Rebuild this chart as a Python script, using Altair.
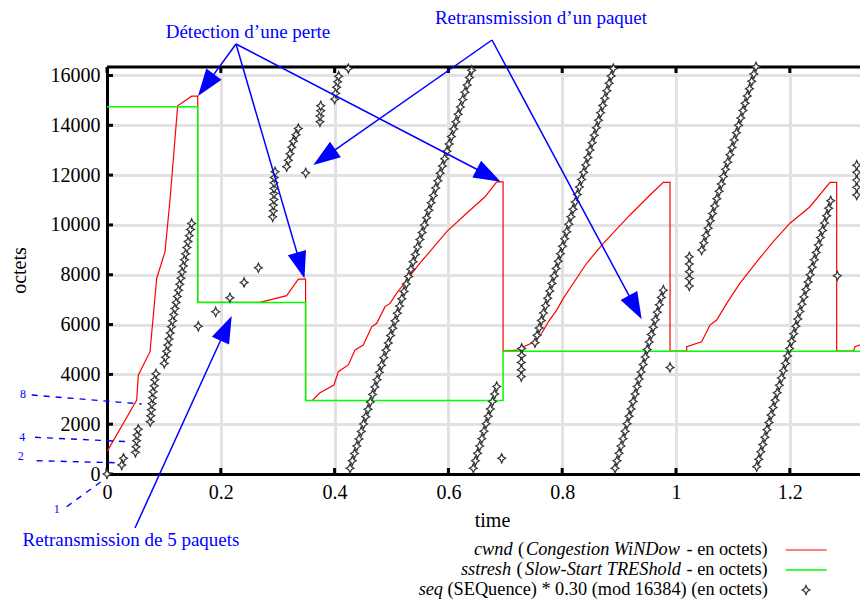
import math
import altair as alt
import pandas as pd

# ---------------- data ----------------
cwnd_t = [0.0000, 0.0522, 0.0550, 0.0756, 0.0873, 0.1019, 0.1107, 0.1242, 0.1488, 0.1594,
          0.1594, 0.2689, 0.3158, 0.3362, 0.3490,
          0.3490, 0.3608, 0.3743, 0.3989, 0.4065, 0.4241, 0.4359, 0.4504, 0.4652, 0.4740,
          0.4886, 0.4974, 0.5091, 0.5207, 0.5295, 0.5471, 0.5647, 0.5970, 0.6350, 0.6643,
          0.6849, 0.6961,
          0.6961, 0.7258, 0.7317, 0.7522, 0.7640, 0.7756, 0.7903, 0.8020, 0.8254, 0.8430,
          0.8723, 0.9192, 0.9543, 0.9777, 0.9895,
          0.9895, 1.0188, 1.0188, 1.0451, 1.0597, 1.0715, 1.0891, 1.1125, 1.1418, 1.1710,
          1.2004, 1.2355, 1.2707, 1.2824,
          1.2824, 1.3117, 1.3146, 1.3374]
cwnd_v = [900, 2970, 3970, 4910, 7850, 8920, 11000, 14780, 15170, 15170,
          6890, 6890, 7160, 7820, 7820,
          2950, 2950, 3260, 3570, 4110, 4380, 4980, 5180, 5910, 6050,
          6720, 6850, 7260, 7590, 7860, 8390, 8860, 9730, 10530, 11130,
          11730, 11730,
          4930, 4980, 5110, 5310, 5650, 6110, 6580, 7050, 7860, 8460,
          9260, 10400, 11200, 11710, 11710,
          4930, 4930, 5110, 5310, 5980, 6180, 6850, 7660, 8520, 9330,
          10070, 10730, 11710, 11710,
          4930, 4930, 5110, 5310]

ssthresh_t = [0.0, 0.1594, 0.1594, 0.3490, 0.3490, 0.6961, 0.6961, 1.3374]
ssthresh_v = [14740, 14740, 6890, 6890, 2950, 2950, 4930, 4930]

# seq markers, burst by burst
seq_start_t = [0.000, 0.026, 0.029, 0.050, 0.051, 0.052, 0.053, 0.055,
               0.076, 0.077, 0.078, 0.079, 0.080, 0.081, 0.083, 0.084, 0.086]
seq_start_v = [0, 360, 630, 870, 1095, 1335, 1565, 1795,
               2100, 2340, 2580, 2820, 3060, 3300, 3545, 3785, 4025]

seq_ss_t = [0.1007, 0.1028, 0.1049, 0.1070, 0.1091, 0.1112, 0.1132, 0.1153, 0.1174, 0.1195,
            0.1216, 0.1237, 0.1258, 0.1279, 0.1300, 0.1321, 0.1342, 0.1362, 0.1383, 0.1404,
            0.1425, 0.1446, 0.1467, 0.1488]
seq_ss_v = [4440, 4690, 4930, 5180, 5420, 5660, 5910, 6150, 6400, 6640,
            6890, 7130, 7380, 7620, 7860, 8110, 8350, 8600, 8840, 9090,
            9330, 9570, 9820, 10060]

seq_rec_t = [0.1605, 0.191, 0.216, 0.241, 0.266,
             0.2912, 0.2923, 0.2923, 0.2935, 0.2935, 0.2935, 0.2935, 0.2940, 0.2953,
             0.3158, 0.3187, 0.3216, 0.3246, 0.3275, 0.3322, 0.3362,
             0.3492,
             0.3743, 0.3743, 0.3756, 0.3756,
             0.4001, 0.4019, 0.4036, 0.4054, 0.4072, 0.4241]
seq_rec_v = [5930, 6510, 7075, 7690, 8280,
             10325, 10566, 10795, 11023, 11264, 11465, 11690, 11906, 12131,
             12340, 12600, 12860, 13120, 13360, 13620, 13870,
             12090,
             14140, 14370, 14580, 14780,
             15050, 15290, 15530, 15750, 15970, 16280]

seq_a_t = [0.4271, 0.4311, 0.4350, 0.4390, 0.4429, 0.4469, 0.4509, 0.4548, 0.4588, 0.4627,
           0.4667, 0.4707, 0.4746, 0.4786, 0.4825, 0.4865, 0.4905, 0.4944, 0.4984, 0.5023,
           0.5063, 0.5103, 0.5142, 0.5182, 0.5221, 0.5261, 0.5301, 0.5340, 0.5380, 0.5419,
           0.5459, 0.5499, 0.5538, 0.5578, 0.5617, 0.5657, 0.5697, 0.5736, 0.5776, 0.5815,
           0.5855, 0.5895, 0.5934, 0.5974, 0.6013, 0.6053, 0.6093, 0.6132, 0.6172, 0.6211,
           0.6251, 0.6291, 0.6330, 0.6370, 0.6409]
seq_a_v = [230, 530, 820, 1120, 1410, 1710, 2010, 2300, 2600, 2890,
           3190, 3490, 3780, 4080, 4370, 4670, 4970, 5260, 5560, 5850,
           6150, 6450, 6740, 7040, 7330, 7630, 7930, 8220, 8520, 8810,
           9110, 9410, 9700, 10000, 10290, 10590, 10890, 11180, 11480, 11770,
           12070, 12370, 12660, 12960, 13250, 13550, 13850, 14140, 14440, 14730,
           15030, 15330, 15620, 15920, 16210]

seq_b_t = [0.6438, 0.6475, 0.6513, 0.6550, 0.6588, 0.6625, 0.6662, 0.6700, 0.6737, 0.6775,
           0.6812, 0.6849, 0.6937,
           0.7288, 0.7288, 0.7281, 0.7281, 0.7281]
seq_b_v = [230, 530, 830, 1120, 1420, 1720, 2020, 2320, 2610, 2910,
           3210, 3510, 630,
           5040, 4760, 4480, 4190, 3910]

seq_c_t = [0.7522, 0.7559, 0.7596, 0.7634, 0.7671, 0.7708, 0.7745, 0.7782, 0.7820, 0.7857,
           0.7894, 0.7931, 0.7968, 0.8005, 0.8043, 0.8080, 0.8117, 0.8154, 0.8191, 0.8229,
           0.8266, 0.8303, 0.8340, 0.8377, 0.8415, 0.8452, 0.8489, 0.8526, 0.8563, 0.8601,
           0.8638, 0.8675, 0.8712, 0.8749, 0.8786, 0.8824, 0.8861, 0.8898]
seq_c_v = [5270, 5570, 5860, 6160, 6460, 6760, 7060, 7350, 7650, 7950,
           8250, 8540, 8840, 9140, 9440, 9730, 10030, 10330, 10630, 10920,
           11220, 11520, 11820, 12110, 12410, 12710, 13010, 13300, 13600, 13900,
           14200, 14500, 14790, 15090, 15390, 15690, 15980, 16280]

seq_d_t = [0.8928, 0.8963, 0.8999, 0.9034, 0.9070, 0.9105, 0.9140, 0.9176, 0.9211, 0.9246,
           0.9282, 0.9317, 0.9353, 0.9388, 0.9423, 0.9459, 0.9494, 0.9530, 0.9565, 0.9600,
           0.9636, 0.9671, 0.9707, 0.9742, 0.9777, 0.9895,
           1.0234, 1.0234, 1.0234, 1.0234, 1.0234]
seq_d_v = [230, 530, 830, 1120, 1420, 1720, 2020, 2320, 2610, 2910,
           3210, 3510, 3810, 4100, 4400, 4700, 5000, 5300, 5600, 5890,
           6190, 6490, 6790, 7090, 7380, 4280,
           7550, 7850, 8120, 8430, 8720]

seq_e_t = [1.0451, 1.0489, 1.0527, 1.0566, 1.0604, 1.0642, 1.0680, 1.0718, 1.0757, 1.0795,
           1.0833, 1.0871, 1.0909, 1.0948, 1.0986, 1.1024, 1.1062, 1.1100, 1.1139, 1.1177,
           1.1215, 1.1253, 1.1291, 1.1330, 1.1368, 1.1406]
seq_e_v = [8990, 9280, 9580, 9870, 10170, 10460, 10760, 11050, 11350, 11640,
           11940, 12230, 12520, 12820, 13110, 13410, 13700, 14000, 14290, 14590,
           14880, 15180, 15470, 15770, 16060, 16350]

seq_f_t = [1.1418, 1.1454, 1.1490, 1.1526, 1.1563, 1.1599, 1.1635, 1.1671, 1.1707, 1.1743,
           1.1779, 1.1816, 1.1852, 1.1888, 1.1924, 1.1960, 1.1996, 1.2032, 1.2069, 1.2105,
           1.2141, 1.2177, 1.2213, 1.2249, 1.2285, 1.2322, 1.2358, 1.2394, 1.2430, 1.2466,
           1.2502, 1.2538, 1.2575, 1.2611, 1.2647, 1.2683, 1.2719,
           1.2835, 1.3176, 1.3176, 1.3176, 1.3176, 1.3176, 1.3340, 1.3380]
seq_f_v = [290, 590, 890, 1180, 1480, 1780, 2070, 2370, 2670, 2960,
           3260, 3560, 3850, 4150, 4440, 4740, 5040, 5330, 5630, 5930,
           6220, 6520, 6820, 7110, 7410, 7710, 8000, 8300, 8600, 8890,
           9190, 9490, 9780, 10080, 10370, 10670, 10970,
           7960, 11200, 11510, 11800, 12110, 12400, 12700, 13000]

x_ticks = [0, 0.2, 0.4, 0.6, 0.8, 1.0, 1.2]
y_ticks = [0, 2000, 4000, 6000, 8000, 10000, 12000, 14000, 16000]

# ---------------- layout ----------------
PX_T = 569.0                 # pixels per time unit
W, H = 753, 407
PAD_L, PAD_T = 99, 59
TOTAL_W, TOTAL_H = 852, 592
T_MAX, V_MAX = W / PX_T, 16340
PX_V = H / V_MAX
OX, OY = 8 + PAD_L, 8 + PAD_T + H          # page pixel of (0, 0)


def tx(px):
    return (px - OX) / PX_T


def vy(py):
    return (OY - py) / PX_V


SERIF = "Liberation Serif"
BLUE = "#0000ff"

xs = alt.Scale(domain=[0, T_MAX], nice=False, zero=False)
ys = alt.Scale(domain=[0, V_MAX], nice=False, zero=False)
xaxis = alt.Axis(values=x_ticks, format="~g", title="time", grid=True, ticks=False,
                 labelPadding=8, labelFlush=False, labelOverlap=False,
                 titleX=385, titleY=46, titleAlign="center", titleBaseline="middle")
yaxis = alt.Axis(values=y_ticks, format="d", title="octets", grid=True, ticks=False,
                 labelPadding=7, labelFlush=False, labelOverlap=False,
                 titleX=-88, titleY=203, titleAngle=270, titleAlign="center",
                 titleBaseline="middle")


def X(f="t"):
    return alt.X(f"{f}:Q", scale=xs, axis=xaxis)


def Y(f="v"):
    return alt.Y(f"{f}:Q", scale=ys, axis=yaxis)


# ---------------- tables ----------------
cwnd_df = pd.DataFrame({"t": cwnd_t, "v": cwnd_v, "i": range(len(cwnd_t))})
ss_df = pd.DataFrame({"t": ssthresh_t, "v": ssthresh_v, "i": range(len(ssthresh_t))})
seq_t = seq_start_t + seq_ss_t + seq_rec_t + seq_a_t + seq_b_t + seq_c_t + seq_d_t + seq_e_t + seq_f_t
seq_v = seq_start_v + seq_ss_v + seq_rec_v + seq_a_v + seq_b_v + seq_c_v + seq_d_v + seq_e_v + seq_f_v
seq_df = pd.DataFrame({"t": seq_t, "v": seq_v})

tick_len = 6
ytick_df = pd.DataFrame({"t": [0.0] * len(y_ticks), "t2": [tick_len / PX_T] * len(y_ticks),
                         "v": y_ticks})
xtick_rows = []
for x in x_ticks:
    xtick_rows.append({"t": x, "v": 0.0, "v2": tick_len / PX_V})
    xtick_rows.append({"t": x, "v": V_MAX, "v2": V_MAX - tick_len / PX_V})
xtick_df = pd.DataFrame(xtick_rows)
frame_df = pd.DataFrame({"v": [V_MAX]})

# annotations (page-pixel layout, converted to data units)
ann_text = [("Détection d’une perte", 248, 32),
            ("Retransmission d’un paquet", 541, 18),
            ("Retransmission de 5 paquets", 131, 540)]
arrows = [((236, 44), (198, 96)), ((236, 44), (304.5, 278.5)), ((236, 44), (500.7, 181.7)),
          ((492, 40), (313.3, 165)), ((492, 40), (641.7, 319.3)),
          ((135, 528), (231.7, 316))]
dashes = [((31.7, 395), (141.7, 404)), ((35, 437.3), (128.3, 441.7)),
          ((36.7, 460.7), (115, 462.7)), ((66.7, 506.7), (103.3, 480))]
small = [("8", 23, 394), ("4", 22.3, 436.7), ("2", 20.7, 456), ("1", 56.7, 509.3)]

HEAD_LEN = 27
line_rows, head_rows = [], []
for (x0, y0), (x1, y1) in arrows:
    dx, dy = x1 - x0, y1 - y0
    L = math.hypot(dx, dy)
    ux, uy = dx / L, dy / L
    cx, cy = x1 - ux * HEAD_LEN / 2, y1 - uy * HEAD_LEN / 2
    ang = math.degrees(math.atan2(dx, -dy)) % 360
    line_rows.append({"t": tx(x0), "v": vy(y0), "t2": tx(cx), "v2": vy(cy)})
    head_rows.append({"t": tx(cx), "v": vy(cy), "ang": ang})
line_df = pd.DataFrame(line_rows)
head_df = pd.DataFrame(head_rows)
dash_df = pd.DataFrame([{"t": tx(a[0]), "v": vy(a[1]), "t2": tx(b[0]), "v2": vy(b[1])}
                        for a, b in dashes])
ann_df = pd.DataFrame([{"label": s, "t": tx(x), "v": vy(y)} for s, x, y in ann_text])
small_df = pd.DataFrame([{"label": s, "t": tx(x), "v": vy(y)} for s, x, y in small])

# legend (left-aligned segments; "seq" right-aligned against its bracket)
ROW1, ROW2, ROW3 = 550, 570, 590
LEG_FS = 18.3
leg_italic_left = [("cwnd", 474, ROW1), ("Congestion WiNDow", 526, ROW1),
                   ("sstresh", 461, ROW2), ("Slow-Start TREShold", 525, ROW2)]
leg_italic_right = [("seq", 443, ROW3)]
leg_roman = [("(", 518, ROW1), ("- en octets)", 686.5, ROW1),
             ("(", 516.5, ROW2), ("- en octets)", 686.5, ROW2),
             ("(SEQuence) * 0.30 (mod 16384) (en octets)", 447.5, ROW3)]
leg_itl_df = pd.DataFrame([{"label": s, "t": tx(x), "v": vy(y)} for s, x, y in leg_italic_left])
leg_itr_df = pd.DataFrame([{"label": s, "t": tx(x), "v": vy(y)} for s, x, y in leg_italic_right])
leg_ro_df = pd.DataFrame([{"label": s, "t": tx(x), "v": vy(y)} for s, x, y in leg_roman])
leg_line_df = pd.DataFrame([
    {"t": tx(785.7), "t2": tx(826.7), "v": vy(ROW1), "c": "#ff0000", "w": 1.2},
    {"t": tx(785.7), "t2": tx(826.7), "v": vy(ROW2), "c": "#00ff00", "w": 1.5},
])
leg_pt_df = pd.DataFrame([{"t": tx(806), "v": vy(ROW3)}])

STAR = ("M0,-1 L0.3,-0.32 L0.85,0 L0.3,0.32 L0,1 L-0.3,0.32 L-0.85,0 "
        "L-0.3,-0.32 Z")
TRI = "M0,-1 L0.7,1 L-0.7,1 Z"

# ---------------- layers ----------------
ytick_layer = alt.Chart(ytick_df).mark_rule(color="black", strokeWidth=3).encode(
    x=X("t"), x2="t2:Q", y=Y("v"))
xtick_layer = alt.Chart(xtick_df).mark_rule(color="black", strokeWidth=3).encode(
    x=X("t"), y=Y("v"), y2="v2:Q")
frame_layer = alt.Chart(frame_df).mark_rule(color="black", strokeWidth=3).encode(y=Y("v"))

cwnd_layer = alt.Chart(cwnd_df).mark_line(color="#ff0000", strokeWidth=1.2).encode(
    x=X("t"), y=Y("v"), order="i:Q")
ss_layer = alt.Chart(ss_df).mark_line(color="#00ff00", strokeWidth=1.5).encode(
    x=X("t"), y=Y("v"), order="i:Q")
seq_layer = alt.Chart(seq_df).mark_point(
    shape=STAR, size=85, filled=True, fill="white", stroke="#333333",
    strokeWidth=1.2, opacity=1).encode(x=X("t"), y=Y("v"))

line_layer = alt.Chart(line_df).mark_rule(color=BLUE, strokeWidth=1.5).encode(
    x=X("t"), y=Y("v"), x2="t2:Q", y2="v2:Q")
head_layer = alt.Chart(head_df).mark_point(
    shape=TRI, size=HEAD_LEN ** 2, filled=True, color=BLUE, opacity=1).encode(
    x=X("t"), y=Y("v"), angle=alt.Angle("ang:Q", scale=None))
dash_layer = alt.Chart(dash_df).mark_rule(color=BLUE, strokeWidth=1.4,
                                          strokeDash=[6, 6]).encode(
    x=X("t"), y=Y("v"), x2="t2:Q", y2="v2:Q")
ann_layer = alt.Chart(ann_df).mark_text(font=SERIF, fontSize=19, color=BLUE,
                                        align="center", baseline="middle").encode(
    x=X("t"), y=Y("v"), text="label:N")
small_layer = alt.Chart(small_df).mark_text(font=SERIF, fontSize=12, color=BLUE,
                                            align="center", baseline="middle").encode(
    x=X("t"), y=Y("v"), text="label:N")

leg_itl_layer = alt.Chart(leg_itl_df).mark_text(font=SERIF, fontSize=LEG_FS, fontStyle="italic",
                                                color="black", align="left",
                                                baseline="middle").encode(
    x=X("t"), y=Y("v"), text="label:N")
leg_itr_layer = alt.Chart(leg_itr_df).mark_text(font=SERIF, fontSize=LEG_FS, fontStyle="italic",
                                                color="black", align="right",
                                                baseline="middle").encode(
    x=X("t"), y=Y("v"), text="label:N")
leg_ro_layer = alt.Chart(leg_ro_df).mark_text(font=SERIF, fontSize=LEG_FS, color="black",
                                              align="left", baseline="middle").encode(
    x=X("t"), y=Y("v"), text="label:N")
leg_line_layer = alt.Chart(leg_line_df).mark_rule().encode(
    x=X("t"), x2="t2:Q", y=Y("v"), color=alt.Color("c:N", scale=None),
    strokeWidth=alt.StrokeWidth("w:Q", scale=None))
leg_pt_layer = alt.Chart(leg_pt_df).mark_point(
    shape=STAR, size=85, filled=True, fill="white", stroke="#333333",
    strokeWidth=1.2, opacity=1).encode(x=X("t"), y=Y("v"))

chart = alt.layer(
    ytick_layer, xtick_layer, frame_layer,
    cwnd_layer, ss_layer, seq_layer,
    line_layer, head_layer, dash_layer, ann_layer, small_layer,
    leg_itl_layer, leg_itr_layer, leg_ro_layer, leg_line_layer, leg_pt_layer,
).properties(
    width=W, height=H,
    autosize=alt.AutoSizeParams(type="none"),
    padding={"left": PAD_L, "top": PAD_T, "right": TOTAL_W - PAD_L - W,
             "bottom": TOTAL_H - PAD_T - H},
    background="white",
).configure_view(strokeWidth=0).configure_axis(
    labelFont=SERIF, labelFontSize=20, labelColor="black",
    titleFont=SERIF, titleFontSize=20, titleFontWeight="normal", titleColor="black",
    gridColor="#e2e2e2", gridWidth=3, domainColor="black", domainWidth=3,
)

chart.save("out.html", embed_options={"renderer": "svg", "actions": False})
